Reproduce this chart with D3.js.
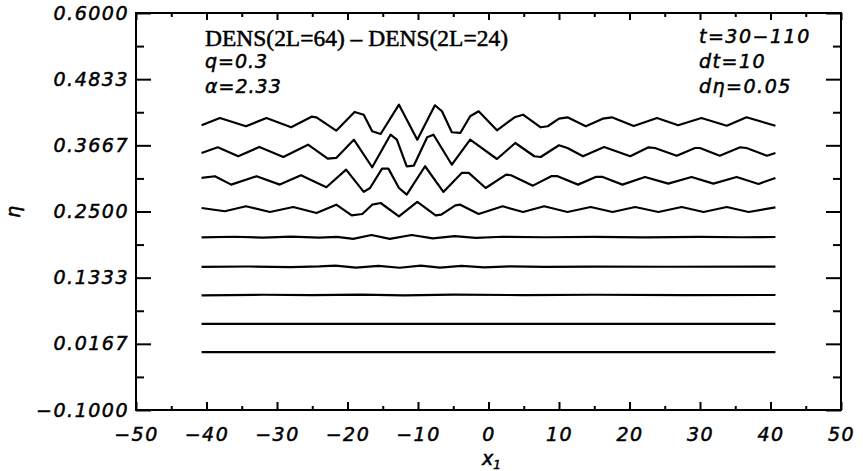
<!DOCTYPE html>
<html>
<head>
<meta charset="utf-8">
<script src="https://cdn.jsdelivr.net/npm/d3@7"></script>
<style>
  body { margin: 0; background: #fff; }
  svg text { font-family: "DejaVu Sans", sans-serif; font-style: italic; font-size: 19px; fill: #000;
             stroke: #000; stroke-width: 0.5px; }
  .tick line { stroke: #000; stroke-width: 2px; }
  .curve { fill: none; stroke: #000; stroke-width: 2.2px; stroke-linejoin: round; }
</style>
</head>
<body>
<div id="chart"></div>
<script>
// times of the curves, each shifted up by dEta
const times = [30, 40, 50, 60, 70, 80, 90, 100, 110];
const dEta = 0.05;

// [x1, deviation in units of 1e-3]
const t30 = [[-40.7, 1.9], [40.7, 1.9]];
const t40 = [[-40.7, 1.8], [0, 2.0], [40.7, 1.8]];
const t50 = [[-40.7, 2.0], [-32, 3.2], [-25, 2.4], [-18, 3.4], [-12, 2.2], [-5, 3.4], [5, 2.6], [15, 3.2], [28, 2.6], [40.7, 2.8]];
const t60 = [[-40.7, 2.5], [-34, 3.0], [-28, 2.0], [-24, 3.2], [-21.7, 4.6], [-18.8, 1.0], [-15.6, 4.2], [-12.6, 0.8],
  [-9.6, 4.6], [-6.9, 1.2], [-3.8, 4.0], [-0.6, 1.5], [3, 3.4], [8, 2.4], [15, 2.8], [25, 2.6], [40.7, 2.8]];
const t70 = [[-40.7, 4.5], [-36, 5.5], [-32, 3.8], [-28, 5.6], [-24, 4.0], [-21.5, 5.2], [-19.2, 1.6], [-16.6, 8.6],
  [-14.0, 1.6], [-10.9, 8.6], [-7.9, 2.5], [-4.8, 6.5], [-1.8, 3.6], [2, 5.5], [8, 4.6], [15, 5.3], [22, 4.4],
  [30, 5.2], [36, 4.6], [40.7, 5.0]];
const t80 = [[-40.7, 6.2], [-37.4, 0.4], [-34.4, 9.2], [-31.0, -0.9], [-27.7, 7.9], [-24.4, -2.6], [-21.6, 12.0],
  [-19.4, -6.7], [-17.9, -4.4], [-16.5, 12.0], [-15.3, 15.0], [-12.7, -8.5], [-10.1, 16.8], [-7.5, -6.7], [-6.7, -5.6],
  [-4.7, 10.9], [-4.0, 12.0], [-1.4, -4.4], [2.0, 9.2], [4.9, -0.9], [7.9, 9.2], [11.2, -0.9], [14.5, 7.9],
  [17.6, -0.9], [20.8, 7.9], [24.1, -0.9], [27.4, 7.9], [30.5, -0.9], [33.8, 7.9], [36.9, -0.9], [40.7, 7.4]];
const t90 = [[-40.7, 9.2], [-38.8, 12.2], [-36.5, -2.6], [-32.9, 12.2], [-29.6, -2.6], [-26.6, 13.9], [-23.0, -7.2],
  [-20.2, 23.8], [-17.7, -15.5], [-16.8, -8.5], [-15.1, 25.6], [-14.2, 25.6], [-12.7, -8.5], [-11.6, -20.3],
  [-9.0, 29.8], [-6.4, -15.5], [-3.8, 18.0], [-2.8, 18.0], [-0.4, -8.5], [2.5, 15.0], [3.2, 13.9], [6.3, -4.4],
  [8.9, 12.2], [9.8, 12.2], [12.7, -2.6], [15.2, 10.9], [16.2, 10.9], [19.0, -2.6], [22.2, 10.9], [25.5, -0.9],
  [28.8, 10.9], [31.9, -0.9], [35.2, 10.9], [38.3, -1.4], [40.7, 9.2]];
const t100 = [[-40.7, 3.2], [-38.4, 13.2], [-35.5, -2.6], [-32.5, 13.8], [-29.1, -3.9], [-25.6, 17.8], [-22.8, -6.9],
  [-21.6, -5.6], [-19.1, 26.6], [-16.5, -22.0], [-13.9, 35.4], [-13.0, 26.6], [-11.6, -20.3], [-10.6, -19.2],
  [-8.7, 30.9], [-7.8, 35.4], [-5.2, -17.5], [-2.6, 26.6], [1.2, -7.4], [3.8, 20.8], [6.5, -2.6], [7.4, -3.9],
  [10.0, 16.8], [11.2, 12.0], [13.4, -2.6], [16.4, 13.8], [20.1, -2.6], [22.7, 13.2], [23.6, 12.0], [26.7, -1.6],
  [29.3, 12.0], [30.0, 12.0], [32.8, -1.6], [35.7, 13.2], [36.6, 12.0], [39.5, -1.6], [40.7, 3.2]];
const t110 = [[-40.7, 2.0], [-38.1, 14.9], [-34.4, 0.3], [-31.5, 14.9], [-28.0, -1.5], [-25.1, 17.2], [-24.4, 16.1],
  [-21.6, -7.5], [-19.0, 25.5], [-17.7, 20.7], [-16.5, -8.6], [-15.3, -13.3], [-12.7, 38.4], [-10.1, -23.4],
  [-7.6, 37.3], [-6.6, 26.7], [-5.2, -10.3], [-4.0, -11.5], [-2.6, 17.9], [-1.4, 26.7], [1.2, -6.8], [3.7, 16.1],
  [4.9, 20.7], [7.4, -1.5], [8.4, 0.3], [10.0, 13.7], [11.2, 16.1], [13.8, 0.3], [16.2, 13.7], [17.5, 16.1],
  [20.6, 0.8], [23.9, 14.9], [26.9, 2.0], [30.2, 14.9], [33.8, 1.3], [36.6, 16.1], [40.7, 1.3]];

const curves = [t30, t40, t50, t60, t70, t80, t90, t100, t110];

// axis ticks
const xMajor = [-50, -40, -30, -20, -10, 0, 10, 20, 30, 40, 50];
const xMinor = [-45, -35, -25, -15, -5, 5, 15, 25, 35, 45];
const yMajor = [0.6, 0.48333, 0.36667, 0.25, 0.13333, 0.01667, -0.1];
const yMinor = [0.54167, 0.425, 0.30833, 0.19167, 0.075, -0.04167];

const width = 863, height = 471;
const plotL = 136, plotR = 841, plotT = 13, plotB = 410;

const svg = d3.select("#chart").append("svg")
  .attr("width", width)
  .attr("height", height);

svg.append("rect").attr("width", width).attr("height", height).attr("fill", "#fff");

const x = d3.scaleLinear().domain([-50, 50]).range([plotL, plotR]);
const y = d3.scaleLinear().domain([-0.1, 0.6]).range([plotB, plotT]);

// axes (ticks pointing inward, like IDL)
function clean(g) { g.select(".domain").remove(); }

svg.append("g").attr("transform", `translate(0,${plotB})`)
  .call(d3.axisBottom(x).tickValues(xMajor).tickSize(-8).tickPadding(18).tickFormat(d3.format("d")))
  .call(clean);
svg.append("g").attr("transform", `translate(0,${plotB})`)
  .call(d3.axisBottom(x).tickValues(xMinor).tickSize(-4).tickFormat(""))
  .call(clean);
svg.append("g").attr("transform", `translate(0,${plotT})`)
  .call(d3.axisTop(x).tickValues(xMajor).tickSize(-7).tickFormat(""))
  .call(clean);
svg.append("g").attr("transform", `translate(0,${plotT})`)
  .call(d3.axisTop(x).tickValues(xMinor).tickSize(-4).tickFormat(""))
  .call(clean);

svg.append("g").attr("transform", `translate(${plotL},0)`)
  .call(d3.axisLeft(y).tickValues(yMajor).tickSize(-15).tickPadding(7).tickFormat(d3.format(".4f")))
  .call(clean);
svg.append("g").attr("transform", `translate(${plotL},0)`)
  .call(d3.axisLeft(y).tickValues(yMinor).tickSize(-8).tickFormat(""))
  .call(clean);
svg.append("g").attr("transform", `translate(${plotR},0)`)
  .call(d3.axisRight(y).tickValues(yMajor).tickSize(-15).tickFormat(""))
  .call(clean);
svg.append("g").attr("transform", `translate(${plotR},0)`)
  .call(d3.axisRight(y).tickValues(yMinor).tickSize(-8).tickFormat(""))
  .call(clean);

svg.selectAll(".tick text")
  .attr("fill", "#000")
  .style("font-family", "'DejaVu Sans', sans-serif")
  .style("font-style", "italic")
  .style("font-size", "19px")
  .style("stroke", "#000")
  .style("stroke-width", "0.5px")
  .style("letter-spacing", "1.5px");

// frame
svg.append("rect")
  .attr("x", plotL).attr("y", plotT)
  .attr("width", plotR - plotL).attr("height", plotB - plotT)
  .attr("fill", "none").attr("stroke", "#000").attr("stroke-width", 2);

// curves
const line = d3.line()
  .x(d => x(d[0]))
  .y(d => y(d[1]));

svg.append("g").selectAll("path")
  .data(curves)
  .join("path")
  .attr("class", "curve")
  .attr("d", (c, i) => line(c.map(p => [p[0], i * dEta + p[1] / 1000])));

// annotations
svg.append("text")
  .attr("x", 205).attr("y", 46)
  .attr("textLength", 303).attr("lengthAdjust", "spacingAndGlyphs")
  .style("font-family", "'Liberation Serif', 'DejaVu Serif', serif")
  .style("font-style", "normal")
  .style("font-size", "23px")
  .text("DENS(2L=64) \u2013 DENS(2L=24)");

const leftNotes = ["q=0.3", "\u03b1=2.33"];
const rightNotes = ["t=30\u2212110", "dt=10", "d\u03b7=0.05"];

svg.selectAll(".lnote").data(leftNotes).join("text")
  .attr("class", "lnote")
  .attr("x", 205).attr("y", (d, i) => 68 + i * 25)
  .style("letter-spacing", "1px")
  .text(d => d);

svg.selectAll(".rnote").data(rightNotes).join("text")
  .attr("class", "rnote")
  .attr("x", 699).attr("y", (d, i) => 43 + i * 25)
  .style("letter-spacing", "1.5px")
  .text(d => d);

// axis titles
const xt = svg.append("text")
  .attr("x", 482).attr("y", 465);
xt.append("tspan").text("x");
xt.append("tspan").attr("dy", 4).style("font-size", "12px").text("1");

svg.append("text")
  .attr("transform", "translate(20,212) rotate(-90)")
  .attr("text-anchor", "middle")
  .text("\u03b7");
</script>
</body>
</html>
